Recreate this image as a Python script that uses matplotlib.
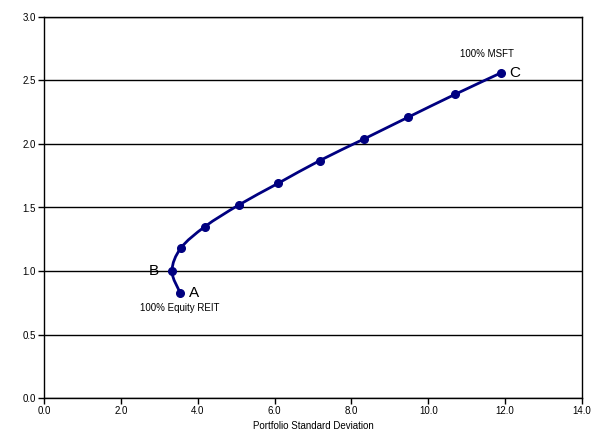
import numpy as np
import matplotlib
matplotlib.use("Agg")
import matplotlib.pyplot as plt
from matplotlib.path import Path
from matplotlib.patches import PathPatch
from matplotlib.ticker import MultipleLocator, FormatStrFormatter

# portfolio frontier, REIT -> MSFT in 10% steps
std_dev = [3.54, 3.33, 3.56, 4.19, 5.07, 6.09, 7.18, 8.33, 9.47, 10.69, 11.89]
exp_return = [0.83, 1.00, 1.18, 1.35, 1.52, 1.69, 1.87, 2.04, 2.21, 2.39, 2.56]
point_letters = {0: "A", 1: "B", 10: "C"}

plt.rcParams['font.family'] = ['Liberation Sans', 'DejaVu Sans']
navy = "#000080"


def smooth_path(xs, ys):
    # excel-like smoothed line: catmull-rom segments as cubic beziers
    pts = np.column_stack([xs, ys])
    n = len(pts)
    verts = [pts[0]]
    codes = [Path.MOVETO]
    for i in range(n - 1):
        p0 = pts[max(i - 1, 0)]
        p1 = pts[i]
        p2 = pts[i + 1]
        p3 = pts[min(i + 2, n - 1)]
        verts += [p1 + (p2 - p0) / 6.0, p2 - (p3 - p1) / 6.0, p2]
        codes += [Path.CURVE4] * 3
    return Path(verts, codes)


fig = plt.figure(figsize=(6, 4.4), dpi=100)
ax = fig.add_axes([44 / 600, 42 / 440, 538 / 600, 381 / 440])

ax.set_xlim(0, 14)
ax.set_ylim(0, 3)
ax.xaxis.set_major_locator(MultipleLocator(2))
ax.yaxis.set_major_locator(MultipleLocator(0.5))
ax.xaxis.set_major_formatter(FormatStrFormatter('%.1f'))
ax.yaxis.set_major_formatter(FormatStrFormatter('%.1f'))
ax.tick_params(direction='out', length=4, width=1, labelsize=7, colors='black', pad=2)
for s in ax.spines.values():
    s.set_color('black')
    s.set_linewidth(1)
ax.yaxis.grid(True, color='black', linewidth=1)
ax.set_axisbelow(True)

patch = PathPatch(smooth_path(std_dev, exp_return), facecolor='none', edgecolor=navy,
                  linewidth=2, transform=ax.transData, zorder=3)
ax.add_patch(patch)
ax.plot(std_dev, exp_return, linestyle='none', marker='o', markersize=5.5,
        color=navy, zorder=4, clip_on=False)

offsets = {"A": (9, 0, 'left'), "B": (-13, 0, 'right'), "C": (8, 0, 'left')}
for idx, letter in point_letters.items():
    dx, dy, ha = offsets[letter]
    ax.annotate(letter, (std_dev[idx], exp_return[idx]), xytext=(dx, dy),
                textcoords='offset pixels', ha=ha, va='center', fontsize=11)

ax.annotate("100% Equity REIT", (std_dev[0], exp_return[0]), xytext=(0, -15),
            textcoords='offset pixels', ha='center', va='center', fontsize=7)
ax.annotate("100% MSFT", (std_dev[-1], exp_return[-1]), xytext=(-14, 19),
            textcoords='offset pixels', ha='center', va='center', fontsize=7)

ax.set_xlabel("Portfolio Standard Deviation", fontsize=7, labelpad=3)

fig.savefig("out.png", dpi=100)
